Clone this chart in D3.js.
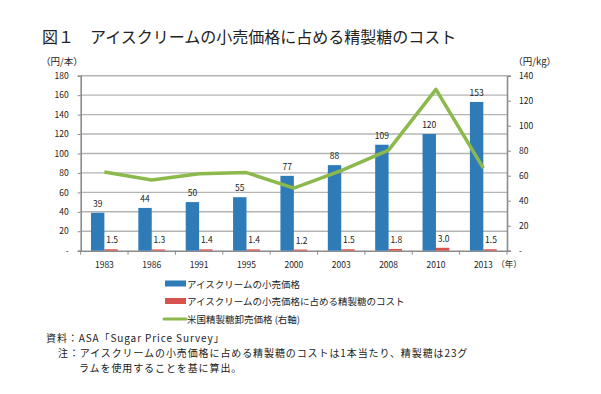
<!DOCTYPE html>
<html>
<head>
<meta charset="utf-8">
<script src="https://cdn.jsdelivr.net/npm/d3@7"></script>
<style>
  body { margin: 0; background: #fff; }
  text { font-family: "Noto Sans CJK JP", "Noto Sans", sans-serif; fill: #222; }
</style>
</head>
<body>
<div id="chart"></div>
<script>
// ----- DATA
var years = ["1983", "1986", "1991", "1995", "2000", "2003", "2008", "2010", "2013"];
var retailPrice = [39, 44, 50, 55, 77, 88, 109, 120, 153];      // 円/本
var sugarCost = [1.5, 1.3, 1.4, 1.4, 1.2, 1.5, 1.8, 3.0, 1.5];  // 円/本
var sugarWholesale = [63, 56.5, 61.5, 62.5, 50, 64, 80.5, 129, 66]; // 円/kg (right axis)
var leftTicks = [0, 20, 40, 60, 80, 100, 120, 140, 160, 180];
var rightTicks = [0, 20, 40, 60, 80, 100, 120, 140];
var legendLabels = ["アイスクリームの小売価格", "アイスクリームの小売価格に占める精製糖のコスト", "米国精製糖卸売価格 (右軸)"];

const size = { width: 601, height: 394 };
const plot = { left: 80.7, right: 507, top: 75.7, bottom: 250.7 };
const colors = { blue: "#2e7bb8", red: "#d6544d", green: "#8cb94b", grid: "#b4b4b4", axis: "#8c8c8c" };

var svg = d3.select("#chart").append("svg")
    .attr("width", size.width)
    .attr("height", size.height);

// title
svg.append("text")
    .attr("x", 42).attr("y", 36)
    .attr("dominant-baseline", "central")
    .style("font-size", "16px")
    .text("図１　アイスクリームの小売価格に占める精製糖のコスト");

// units
svg.append("text").attr("x", 41).attr("y", 61)
    .attr("dominant-baseline", "central").style("font-size", "9.5px").text("（円/本）");
svg.append("text").attr("x", 556).attr("y", 61).attr("text-anchor", "end")
    .attr("dominant-baseline", "central").style("font-size", "9.5px").text("（円/kg）");

// scales
var x_scale = d3.scaleBand().domain(years).range([plot.left, plot.right]);
var y_left = d3.scaleLinear().domain([0, 180]).range([plot.bottom, plot.top]);
var y_right = d3.scaleLinear().domain([0, 140]).range([plot.bottom, plot.top]);
var barW = x_scale.bandwidth() * 0.283;

// grid
svg.append("g").selectAll("line")
    .data(leftTicks.slice(1))
    .join("line")
    .attr("x1", plot.left).attr("x2", plot.right)
    .attr("y1", d => y_left(d)).attr("y2", d => y_left(d))
    .attr("stroke", colors.grid).attr("stroke-width", 1.4);

// axes
var fmt = d => d === 0 ? "-" : d;
var gLeft = svg.append("g")
    .attr("transform", "translate(" + plot.left + ",0)")
    .call(d3.axisLeft(y_left).tickValues(leftTicks).tickFormat(fmt).tickSize(3).tickPadding(9));
var gRight = svg.append("g")
    .attr("transform", "translate(" + plot.right + ",0)")
    .call(d3.axisRight(y_right).tickValues(rightTicks).tickFormat(fmt).tickSize(4).tickPadding(8));
var gBottom = svg.append("g")
    .attr("transform", "translate(0," + plot.bottom + ")")
    .call(d3.axisBottom(x_scale).tickSize(0).tickPadding(11));

[gLeft, gRight, gBottom].forEach(function (g) {
    g.select(".domain").attr("stroke", colors.axis).attr("stroke-width", 1.6);
    g.selectAll(".tick line").attr("stroke", colors.axis).attr("stroke-width", 1);
    g.selectAll(".tick text").style("font-size", "8.5px").attr("fill", "#222")
        .style("font-family", "\"Noto Sans CJK JP\", sans-serif");
});

// category boundary ticks on x axis
svg.append("g").selectAll("line")
    .data(years.concat(["end"]))
    .join("line")
    .attr("x1", (d, i) => plot.left + i * x_scale.step())
    .attr("x2", (d, i) => plot.left + i * x_scale.step())
    .attr("y1", plot.bottom).attr("y2", plot.bottom + 4)
    .attr("stroke", colors.axis).attr("stroke-width", 1);

// "(年)"
svg.append("text")
    .attr("x", x_scale("2013") + x_scale.bandwidth() / 2 + 13)
    .attr("y", plot.bottom + 12.5)
    .attr("dominant-baseline", "central")
    .style("font-size", "8.5px")
    .text("（年）");

// bars
var centers = years.map(y => x_scale(y) + x_scale.bandwidth() / 2);
svg.append("g").selectAll("rect")
    .data(retailPrice)
    .join("rect")
    .attr("x", (d, i) => centers[i] - barW)
    .attr("y", d => y_left(d))
    .attr("width", barW)
    .attr("height", d => plot.bottom - y_left(d))
    .attr("fill", colors.blue);

svg.append("g").selectAll("rect")
    .data(sugarCost)
    .join("rect")
    .attr("x", (d, i) => centers[i])
    .attr("y", d => y_left(d))
    .attr("width", barW)
    .attr("height", d => plot.bottom - y_left(d))
    .attr("fill", colors.red);

// bar labels
svg.append("g").selectAll("text")
    .data(retailPrice)
    .join("text")
    .attr("x", (d, i) => centers[i] - barW / 2)
    .attr("y", d => y_left(d) - 10)
    .attr("text-anchor", "middle")
    .attr("dominant-baseline", "central")
    .style("font-size", "8.5px")
    .text(d => d);

svg.append("g").selectAll("text")
    .data(sugarCost)
    .join("text")
    .attr("x", (d, i) => centers[i] + barW / 2 + 1)
    .attr("y", d => y_left(d) - 10)
    .attr("text-anchor", "middle")
    .attr("dominant-baseline", "central")
    .style("font-size", "8.5px")
    .text(d => d.toFixed(1));

// green line (right axis)
svg.append("path")
    .datum(sugarWholesale)
    .attr("fill", "none")
    .attr("stroke", colors.green)
    .attr("stroke-width", 3.5)
    .attr("stroke-linejoin", "round")
    .attr("d", d3.line()
        .x((d, i) => centers[i])
        .y(d => y_right(d)));

// legend
var legendY = [283.5, 301, 319];
var legend = svg.append("g");
legend.append("rect").attr("x", 165).attr("y", legendY[0] - 3).attr("width", 21).attr("height", 6).attr("fill", colors.blue);
legend.append("rect").attr("x", 165).attr("y", legendY[1] - 3).attr("width", 21).attr("height", 6).attr("fill", colors.red);
legend.append("line").attr("x1", 164).attr("x2", 186).attr("y1", legendY[2]).attr("y2", legendY[2])
    .attr("stroke", colors.green).attr("stroke-width", 3).attr("stroke-linecap", "round");
legend.selectAll("text")
    .data(legendLabels)
    .join("text")
    .attr("x", 187)
    .attr("y", (d, i) => legendY[i])
    .attr("dominant-baseline", "central")
    .style("font-size", "9.5px")
    .text(d => d);

// source and note
var notes = svg.append("g").style("font-size", "10px").style("letter-spacing", "0.9px");
notes.append("text").attr("x", 46).attr("y", 337.5).attr("dominant-baseline", "central")
    .text("資料：ASA「Sugar Price Survey」");
notes.append("text").attr("x", 58).attr("y", 352.5).attr("dominant-baseline", "central")
    .text("注：アイスクリームの小売価格に占める精製糖のコストは1本当たり、精製糖は23グ");
notes.append("text").attr("x", 79).attr("y", 367).attr("dominant-baseline", "central")
    .text("ラムを使用することを基に算出。");
</script>
</body>
</html>
